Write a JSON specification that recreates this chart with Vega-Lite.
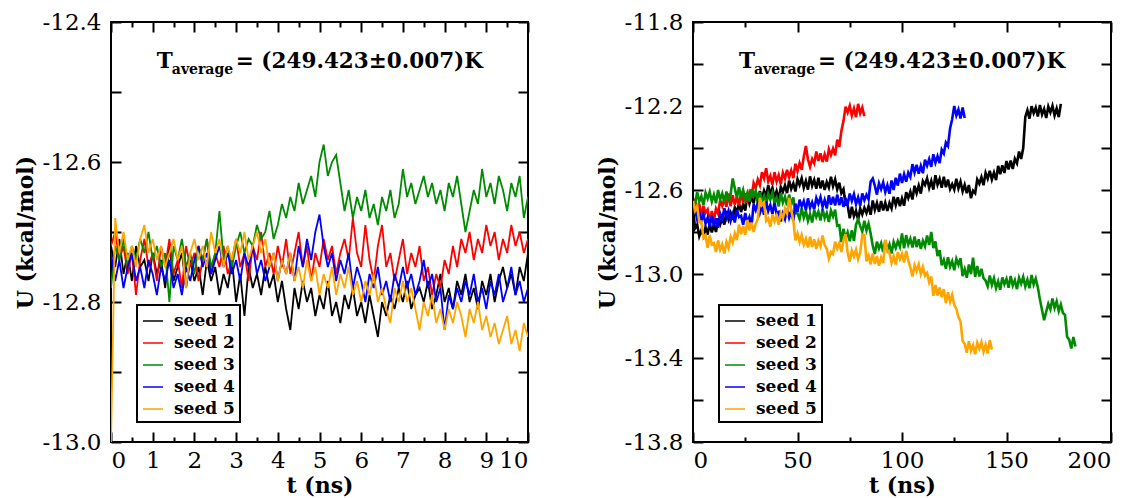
{
"$schema": "https://vega.github.io/schema/vega-lite/v6.json",
"padding": {"left": 13, "top": 10, "right": 0, "bottom": 0},
"spacing": 165,
"bounds": "flush",
"datasets": {
"left": [
{"t":0,"s1":-12.72,"s2":-12.72,"s3":-12.78,"s4":-12.73,"s5":-13.0},
{"t":0.1,"s1":-12.75,"s2":-12.70,"s3":-12.72,"s4":-12.77,"s5":-12.68},
{"t":0.2,"s1":-12.71,"s2":-12.74,"s3":-12.74,"s4":-12.74,"s5":-12.73},
{"t":0.3,"s1":-12.76,"s2":-12.72,"s3":-12.71,"s4":-12.78,"s5":-12.70},
{"t":0.4,"s1":-12.73,"s2":-12.76,"s3":-12.75,"s4":-12.75,"s5":-12.74},
{"t":0.5,"s1":-12.77,"s2":-12.73,"s3":-12.72,"s4":-12.73,"s5":-12.72},
{"t":0.6,"s1":-12.72,"s2":-12.79,"s3":-12.74,"s4":-12.77,"s5":-12.75},
{"t":0.7,"s1":-12.75,"s2":-12.74,"s3":-12.71,"s4":-12.75,"s5":-12.71},
{"t":0.8,"s1":-12.74,"s2":-12.71,"s3":-12.73,"s4":-12.78,"s5":-12.69},
{"t":0.9,"s1":-12.77,"s2":-12.75,"s3":-12.70,"s4":-12.74,"s5":-12.73},
{"t":1.0,"s1":-12.73,"s2":-12.73,"s3":-12.74,"s4":-12.76,"s5":-12.71},
{"t":1.1,"s1":-12.76,"s2":-12.77,"s3":-12.72,"s4":-12.79,"s5":-12.74},
{"t":1.2,"s1":-12.74,"s2":-12.72,"s3":-12.75,"s4":-12.75,"s5":-12.72},
{"t":1.3,"s1":-12.78,"s2":-12.75,"s3":-12.73,"s4":-12.77,"s5":-12.75},
{"t":1.4,"s1":-12.72,"s2":-12.71,"s3":-12.80,"s4":-12.74,"s5":-12.73},
{"t":1.5,"s1":-12.77,"s2":-12.76,"s3":-12.72,"s4":-12.78,"s5":-12.71},
{"t":1.6,"s1":-12.75,"s2":-12.74,"s3":-12.74,"s4":-12.76,"s5":-12.74},
{"t":1.7,"s1":-12.73,"s2":-12.78,"s3":-12.71,"s4":-12.79,"s5":-12.72},
{"t":1.8,"s1":-12.78,"s2":-12.72,"s3":-12.75,"s4":-12.75,"s5":-12.78},
{"t":1.9,"s1":-12.74,"s2":-12.75,"s3":-12.73,"s4":-12.77,"s5":-12.73},
{"t":2.0,"s1":-12.77,"s2":-12.73,"s3":-12.76,"s4":-12.74,"s5":-12.71},
{"t":2.1,"s1":-12.75,"s2":-12.77,"s3":-12.72,"s4":-12.72,"s5":-12.74},
{"t":2.2,"s1":-12.79,"s2":-12.74,"s3":-12.74,"s4":-12.75,"s5":-12.72},
{"t":2.3,"s1":-12.74,"s2":-12.71,"s3":-12.71,"s4":-12.73,"s5":-12.75},
{"t":2.4,"s1":-12.77,"s2":-12.76,"s3":-12.75,"s4":-12.76,"s5":-12.70},
{"t":2.5,"s1":-12.75,"s2":-12.73,"s3":-12.73,"s4":-12.74,"s5":-12.73},
{"t":2.6,"s1":-12.79,"s2":-12.75,"s3":-12.67,"s4":-12.72,"s5":-12.71},
{"t":2.7,"s1":-12.76,"s2":-12.72,"s3":-12.74,"s4":-12.75,"s5":-12.75},
{"t":2.8,"s1":-12.78,"s2":-12.76,"s3":-12.72,"s4":-12.73,"s5":-12.72},
{"t":2.9,"s1":-12.74,"s2":-12.74,"s3":-12.75,"s4":-12.76,"s5":-12.74},
{"t":3.0,"s1":-12.80,"s2":-12.71,"s3":-12.72,"s4":-12.74,"s5":-12.71},
{"t":3.1,"s1":-12.76,"s2":-12.75,"s3":-12.70,"s4":-12.77,"s5":-12.73},
{"t":3.2,"s1":-12.82,"s2":-12.73,"s3":-12.73,"s4":-12.73,"s5":-12.70},
{"t":3.3,"s1":-12.75,"s2":-12.77,"s3":-12.71,"s4":-12.75,"s5":-12.74},
{"t":3.4,"s1":-12.78,"s2":-12.72,"s3":-12.72,"s4":-12.72,"s5":-12.72},
{"t":3.5,"s1":-12.76,"s2":-12.74,"s3":-12.69,"s4":-12.76,"s5":-12.70},
{"t":3.6,"s1":-12.79,"s2":-12.70,"s3":-12.71,"s4":-12.74,"s5":-12.73},
{"t":3.7,"s1":-12.75,"s2":-12.75,"s3":-12.70,"s4":-12.77,"s5":-12.71},
{"t":3.8,"s1":-12.78,"s2":-12.73,"s3":-12.67,"s4":-12.75,"s5":-12.75},
{"t":3.9,"s1":-12.76,"s2":-12.76,"s3":-12.71,"s4":-12.73,"s5":-12.73},
{"t":4.0,"s1":-12.80,"s2":-12.72,"s3":-12.69,"s4":-12.77,"s5":-12.77},
{"t":4.1,"s1":-12.77,"s2":-12.75,"s3":-12.66,"s4":-12.74,"s5":-12.74},
{"t":4.2,"s1":-12.81,"s2":-12.71,"s3":-12.68,"s4":-12.76,"s5":-12.76},
{"t":4.3,"s1":-12.84,"s2":-12.76,"s3":-12.65,"s4":-12.73,"s5":-12.73},
{"t":4.4,"s1":-12.78,"s2":-12.73,"s3":-12.67,"s4":-12.77,"s5":-12.77},
{"t":4.5,"s1":-12.81,"s2":-12.70,"s3":-12.63,"s4":-12.72,"s5":-12.75},
{"t":4.6,"s1":-12.77,"s2":-12.75,"s3":-12.66,"s4":-12.75,"s5":-12.78},
{"t":4.7,"s1":-12.80,"s2":-12.72,"s3":-12.64,"s4":-12.71,"s5":-12.74},
{"t":4.8,"s1":-12.78,"s2":-12.77,"s3":-12.62,"s4":-12.74,"s5":-12.77},
{"t":4.9,"s1":-12.82,"s2":-12.73,"s3":-12.65,"s4":-12.70,"s5":-12.75},
{"t":5.0,"s1":-12.79,"s2":-12.75,"s3":-12.60,"s4":-12.675,"s5":-12.79},
{"t":5.1,"s1":-12.81,"s2":-12.71,"s3":-12.575,"s4":-12.72,"s5":-12.76},
{"t":5.2,"s1":-12.77,"s2":-12.74,"s3":-12.62,"s4":-12.75,"s5":-12.78},
{"t":5.3,"s1":-12.82,"s2":-12.72,"s3":-12.60,"s4":-12.73,"s5":-12.75},
{"t":5.4,"s1":-12.80,"s2":-12.76,"s3":-12.59,"s4":-12.77,"s5":-12.79},
{"t":5.5,"s1":-12.83,"s2":-12.73,"s3":-12.63,"s4":-12.74,"s5":-12.76},
{"t":5.6,"s1":-12.79,"s2":-12.71,"s3":-12.67,"s4":-12.76,"s5":-12.78},
{"t":5.7,"s1":-12.81,"s2":-12.74,"s3":-12.64,"s4":-12.73,"s5":-12.75},
{"t":5.8,"s1":-12.78,"s2":-12.68,"s3":-12.68,"s4":-12.78,"s5":-12.79},
{"t":5.9,"s1":-12.82,"s2":-12.73,"s3":-12.65,"s4":-12.75,"s5":-12.77},
{"t":6.0,"s1":-12.80,"s2":-12.75,"s3":-12.67,"s4":-12.77,"s5":-12.80},
{"t":6.1,"s1":-12.83,"s2":-12.69,"s3":-12.64,"s4":-12.80,"s5":-12.77},
{"t":6.2,"s1":-12.79,"s2":-12.74,"s3":-12.68,"s4":-12.76,"s5":-12.79},
{"t":6.3,"s1":-12.82,"s2":-12.77,"s3":-12.66,"s4":-12.78,"s5":-12.76},
{"t":6.4,"s1":-12.85,"s2":-12.72,"s3":-12.69,"s4":-12.75,"s5":-12.80},
{"t":6.5,"s1":-12.80,"s2":-12.69,"s3":-12.65,"s4":-12.79,"s5":-12.78},
{"t":6.6,"s1":-12.82,"s2":-12.75,"s3":-12.67,"s4":-12.77,"s5":-12.81},
{"t":6.7,"s1":-12.79,"s2":-12.73,"s3":-12.64,"s4":-12.80,"s5":-12.83},
{"t":6.8,"s1":-12.81,"s2":-12.77,"s3":-12.68,"s4":-12.76,"s5":-12.78},
{"t":6.9,"s1":-12.78,"s2":-12.74,"s3":-12.66,"s4":-12.78,"s5":-12.80},
{"t":7.0,"s1":-12.80,"s2":-12.71,"s3":-12.61,"s4":-12.75,"s5":-12.77},
{"t":7.1,"s1":-12.77,"s2":-12.76,"s3":-12.65,"s4":-12.78,"s5":-12.80},
{"t":7.2,"s1":-12.81,"s2":-12.73,"s3":-12.63,"s4":-12.76,"s5":-12.78},
{"t":7.3,"s1":-12.79,"s2":-12.75,"s3":-12.66,"s4":-12.79,"s5":-12.81},
{"t":7.4,"s1":-12.78,"s2":-12.72,"s3":-12.64,"s4":-12.77,"s5":-12.84},
{"t":7.5,"s1":-12.80,"s2":-12.77,"s3":-12.62,"s4":-12.74,"s5":-12.80},
{"t":7.6,"s1":-12.77,"s2":-12.75,"s3":-12.65,"s4":-12.78,"s5":-12.82},
{"t":7.7,"s1":-12.81,"s2":-12.79,"s3":-12.63,"s4":-12.76,"s5":-12.79},
{"t":7.8,"s1":-12.79,"s2":-12.76,"s3":-12.66,"s4":-12.80,"s5":-12.83},
{"t":7.9,"s1":-12.76,"s2":-12.78,"s3":-12.64,"s4":-12.78,"s5":-12.81},
{"t":8.0,"s1":-12.80,"s2":-12.74,"s3":-12.67,"s4":-12.84,"s5":-12.84},
{"t":8.1,"s1":-12.78,"s2":-12.76,"s3":-12.63,"s4":-12.79,"s5":-12.81},
{"t":8.2,"s1":-12.81,"s2":-12.72,"s3":-12.65,"s4":-12.81,"s5":-12.83},
{"t":8.3,"s1":-12.77,"s2":-12.75,"s3":-12.62,"s4":-12.78,"s5":-12.80},
{"t":8.4,"s1":-12.79,"s2":-12.71,"s3":-12.66,"s4":-12.80,"s5":-12.82},
{"t":8.5,"s1":-12.76,"s2":-12.73,"s3":-12.70,"s4":-12.77,"s5":-12.85},
{"t":8.6,"s1":-12.80,"s2":-12.70,"s3":-12.67,"s4":-12.79,"s5":-12.81},
{"t":8.7,"s1":-12.78,"s2":-12.74,"s3":-12.64,"s4":-12.76,"s5":-12.83},
{"t":8.8,"s1":-12.81,"s2":-12.71,"s3":-12.66,"s4":-12.80,"s5":-12.80},
{"t":8.9,"s1":-12.77,"s2":-12.73,"s3":-12.61,"s4":-12.78,"s5":-12.84},
{"t":9.0,"s1":-12.79,"s2":-12.69,"s3":-12.65,"s4":-12.81,"s5":-12.82},
{"t":9.1,"s1":-12.76,"s2":-12.72,"s3":-12.63,"s4":-12.77,"s5":-12.85},
{"t":9.2,"s1":-12.80,"s2":-12.70,"s3":-12.66,"s4":-12.79,"s5":-12.83},
{"t":9.3,"s1":-12.77,"s2":-12.74,"s3":-12.62,"s4":-12.76,"s5":-12.86},
{"t":9.4,"s1":-12.75,"s2":-12.71,"s3":-12.64,"s4":-12.80,"s5":-12.84},
{"t":9.5,"s1":-12.78,"s2":-12.73,"s3":-12.67,"s4":-12.78,"s5":-12.82},
{"t":9.6,"s1":-12.76,"s2":-12.69,"s3":-12.63,"s4":-12.75,"s5":-12.86},
{"t":9.7,"s1":-12.79,"s2":-12.72,"s3":-12.65,"s4":-12.79,"s5":-12.84},
{"t":9.8,"s1":-12.75,"s2":-12.70,"s3":-12.62,"s4":-12.77,"s5":-12.87},
{"t":9.9,"s1":-12.77,"s2":-12.73,"s3":-12.68,"s4":-12.80,"s5":-12.83},
{"t":10.0,"s1":-12.73,"s2":-12.71,"s3":-12.65,"s4":-12.78,"s5":-12.85}
],
"right": [
{"t":0,"s1":-12.692,"s2":-12.672,"s3":-12.653,"s4":-12.706,"s5":-12.652},
{"t":1,"s1":-12.782,"s2":-12.65,"s3":-12.665,"s4":-12.694,"s5":-12.698},
{"t":2,"s1":-12.765,"s2":-12.697,"s3":-12.61,"s4":-12.74,"s5":-12.677},
{"t":3,"s1":-12.82,"s2":-12.665,"s3":-12.655,"s4":-12.707,"s5":-12.752},
{"t":4,"s1":-12.792,"s2":-12.725,"s3":-12.629,"s4":-12.748,"s5":-12.75},
{"t":5,"s1":-12.818,"s2":-12.676,"s3":-12.672,"s4":-12.715,"s5":-12.827},
{"t":6,"s1":-12.777,"s2":-12.709,"s3":-12.613,"s4":-12.76,"s5":-12.815},
{"t":7,"s1":-12.812,"s2":-12.693,"s3":-12.641,"s4":-12.732,"s5":-12.875},
{"t":8,"s1":-12.76,"s2":-12.755,"s3":-12.609,"s4":-12.774,"s5":-12.816},
{"t":9,"s1":-12.802,"s2":-12.70,"s3":-12.655,"s4":-12.722,"s5":-12.859},
{"t":10,"s1":-12.765,"s2":-12.745,"s3":-12.622,"s4":-12.772,"s5":-12.853},
{"t":11,"s1":-12.80,"s2":-12.689,"s3":-12.663,"s4":-12.735,"s5":-12.895},
{"t":12,"s1":-12.736,"s2":-12.712,"s3":-12.60,"s4":-12.78,"s5":-12.84},
{"t":13,"s1":-12.764,"s2":-12.648,"s3":-12.645,"s4":-12.712,"s5":-12.885},
{"t":14,"s1":-12.733,"s2":-12.676,"s3":-12.617,"s4":-12.738,"s5":-12.859},
{"t":15,"s1":-12.765,"s2":-12.644,"s3":-12.659,"s4":-12.687,"s5":-12.902},
{"t":16,"s1":-12.70,"s2":-12.68,"s3":-12.607,"s4":-12.732,"s5":-12.848},
{"t":17,"s1":-12.74,"s2":-12.617,"s3":-12.657,"s4":-12.70,"s5":-12.876},
{"t":18,"s1":-12.709,"s2":-12.678,"s3":-12.62,"s4":-12.747,"s5":-12.824},
{"t":19,"s1":-12.742,"s2":-12.625,"s3":-12.545,"s4":-12.715,"s5":-12.85},
{"t":20,"s1":-12.683,"s2":-12.67,"s3":-12.592,"s4":-12.755,"s5":-12.807},
{"t":21,"s1":-12.706,"s2":-12.632,"s3":-12.638,"s4":-12.696,"s5":-12.838},
{"t":22,"s1":-12.664,"s2":-12.674,"s3":-12.587,"s4":-12.729,"s5":-12.765},
{"t":23,"s1":-12.705,"s2":-12.612,"s3":-12.632,"s4":-12.723,"s5":-12.81},
{"t":24,"s1":-12.667,"s2":-12.662,"s3":-12.60,"s4":-12.765,"s5":-12.772},
{"t":25,"s1":-12.698,"s2":-12.615,"s3":-12.647,"s4":-12.71,"s5":-12.814},
{"t":26,"s1":-12.625,"s2":-12.66,"s3":-12.615,"s4":-12.755,"s5":-12.742},
{"t":27,"s1":-12.665,"s2":-12.612,"s3":-12.655,"s4":-12.729,"s5":-12.792},
{"t":28,"s1":-12.632,"s2":-12.638,"s3":-12.596,"s4":-12.772,"s5":-12.755},
{"t":29,"s1":-12.664,"s2":-12.567,"s3":-12.629,"s4":-12.668,"s5":-12.80},
{"t":30,"s1":-12.607,"s2":-12.592,"s3":-12.603,"s4":-12.696,"s5":-12.762},
{"t":31,"s1":-12.652,"s2":-12.55,"s3":-12.665,"s4":-12.664,"s5":-12.738},
{"t":32,"s1":-12.605,"s2":-12.577,"s3":-12.61,"s4":-12.71,"s5":-12.637},
{"t":33,"s1":-12.64,"s2":-12.515,"s3":-12.655,"s4":-12.677,"s5":-12.672},
{"t":34,"s1":-12.602,"s2":-12.545,"s3":-12.629,"s4":-12.718,"s5":-12.66},
{"t":35,"s1":-12.628,"s2":-12.496,"s3":-12.672,"s4":-12.655,"s5":-12.747},
{"t":36,"s1":-12.577,"s2":-12.559,"s3":-12.618,"s4":-12.70,"s5":-12.735},
{"t":37,"s1":-12.622,"s2":-12.533,"s3":-12.646,"s4":-12.672,"s5":-12.775},
{"t":38,"s1":-12.59,"s2":-12.575,"s3":-12.614,"s4":-12.714,"s5":-12.716},
{"t":39,"s1":-12.637,"s2":-12.515,"s3":-12.66,"s4":-12.662,"s5":-12.749},
{"t":40,"s1":-12.605,"s2":-12.56,"s3":-12.637,"s4":-12.712,"s5":-12.723},
{"t":41,"s1":-12.645,"s2":-12.529,"s3":-12.678,"s4":-12.705,"s5":-12.765},
{"t":42,"s1":-12.586,"s2":-12.572,"s3":-12.615,"s4":-12.75,"s5":-12.71},
{"t":43,"s1":-12.609,"s2":-12.518,"s3":-12.66,"s4":-12.712,"s5":-12.735},
{"t":44,"s1":-12.578,"s2":-12.546,"s3":-12.632,"s4":-12.738,"s5":-12.689},
{"t":45,"s1":-12.615,"s2":-12.504,"s3":-12.674,"s4":-12.687,"s5":-12.712},
{"t":46,"s1":-12.555,"s2":-12.54,"s3":-12.622,"s4":-12.732,"s5":-12.638},
{"t":47,"s1":-12.595,"s2":-12.507,"s3":-12.672,"s4":-12.70,"s5":-12.696},
{"t":48,"s1":-12.569,"s2":-12.543,"s3":-12.635,"s4":-12.747,"s5":-12.744},
{"t":49,"s1":-12.607,"s2":-12.475,"s3":-12.71,"s4":-12.665,"s5":-12.84},
{"t":50,"s1":-12.548,"s2":-12.51,"s3":-12.712,"s4":-12.705,"s5":-12.807},
{"t":51,"s1":-12.576,"s2":-12.472,"s3":-12.738,"s4":-12.646,"s5":-12.848},
{"t":52,"s1":-12.544,"s2":-12.504,"s3":-12.687,"s4":-12.679,"s5":-12.815},
{"t":53,"s1":-12.59,"s2":-12.442,"s3":-12.732,"s4":-12.653,"s5":-12.86},
{"t":54,"s1":-12.557,"s2":-12.39,"s3":-12.70,"s4":-12.695,"s5":-12.832},
{"t":55,"s1":-12.598,"s2":-12.455,"s3":-12.747,"s4":-12.64,"s5":-12.874},
{"t":56,"s1":-12.535,"s2":-12.49,"s3":-12.715,"s4":-12.685,"s5":-12.822},
{"t":57,"s1":-12.58,"s2":-12.452,"s3":-12.755,"s4":-12.659,"s5":-12.872},
{"t":58,"s1":-12.552,"s2":-12.473,"s3":-12.696,"s4":-12.692,"s5":-12.835},
{"t":59,"s1":-12.594,"s2":-12.417,"s3":-12.729,"s4":-12.638,"s5":-12.88},
{"t":60,"s1":-12.542,"s2":-12.462,"s3":-12.703,"s4":-12.666,"s5":-12.842},
{"t":61,"s1":-12.592,"s2":-12.425,"s3":-12.745,"s4":-12.634,"s5":-12.868},
{"t":62,"s1":-12.555,"s2":-12.467,"s3":-12.69,"s4":-12.68,"s5":-12.817},
{"t":63,"s1":-12.60,"s2":-12.43,"s3":-12.735,"s4":-12.647,"s5":-12.862},
{"t":64,"s1":-12.562,"s2":-12.465,"s3":-12.709,"s4":-12.688,"s5":-12.88},
{"t":65,"s1":-12.588,"s2":-12.406,"s3":-12.752,"s4":-12.625,"s5":-12.927},
{"t":66,"s1":-12.537,"s2":-12.434,"s3":-12.698,"s4":-12.67,"s5":-12.895},
{"t":67,"s1":-12.582,"s2":-12.403,"s3":-12.726,"s4":-12.632,"s5":-12.905},
{"t":68,"s1":-12.55,"s2":-12.435,"s3":-12.694,"s4":-12.674,"s5":-12.846},
{"t":69,"s1":-12.597,"s2":-12.36,"s3":-12.77,"s4":-12.622,"s5":-12.879},
{"t":70,"s1":-12.565,"s2":-12.395,"s3":-12.767,"s4":-12.672,"s5":-12.853},
{"t":71,"s1":-12.615,"s2":-12.319,"s3":-12.848,"s4":-12.635,"s5":-12.895},
{"t":72,"s1":-12.596,"s2":-12.272,"s3":-12.785,"s4":-12.68,"s5":-12.84},
{"t":73,"s1":-12.669,"s2":-12.203,"s3":-12.83,"s4":-12.642,"s5":-12.81},
{"t":74,"s1":-12.673,"s2":-12.231,"s3":-12.802,"s4":-12.668,"s5":-12.899},
{"t":75,"s1":-12.735,"s2":-12.199,"s3":-12.844,"s4":-12.617,"s5":-12.942},
{"t":76,"s1":-12.68,"s2":-12.245,"s3":-12.792,"s4":-12.652,"s5":-12.888},
{"t":77,"s1":-12.725,"s2":-12.212,"s3":-12.842,"s4":-12.62,"s5":-12.916},
{"t":78,"s1":-12.699,"s2":-12.253,"s3":-12.765,"s4":-12.667,"s5":-12.884},
{"t":79,"s1":-12.742,"s2":-12.19,"s3":-12.74,"s4":-12.635,"s5":-12.93},
{"t":80,"s1":-12.688,"s2":-12.235,"s3":-12.772,"s4":-12.675,"s5":-12.897},
{"t":81,"s1":-12.716,"s2":-12.207,"s3":-12.798,"s4":-12.616,"s5":-12.815},
{"t":82,"s1":-12.684,"s2":-12.249,"s3":-12.747,"s4":-12.649,"s5":-12.815},
{"t":83,"s1":-12.71,"s3":-12.792,"s4":-12.623,"s5":-12.94},
{"t":84,"s1":-12.677,"s3":-12.76,"s4":-12.645,"s5":-12.912},
{"t":85,"s1":-12.718,"s3":-12.807,"s4":-12.56,"s5":-12.954},
{"t":86,"s1":-12.65,"s3":-12.865,"s4":-12.545,"s5":-12.902},
{"t":87,"s1":-12.695,"s3":-12.905,"s4":-12.579,"s5":-12.952},
{"t":88,"s1":-12.662,"s3":-12.846,"s4":-12.622,"s5":-12.915},
{"t":89,"s1":-12.704,"s3":-12.879,"s4":-12.568,"s5":-12.96},
{"t":90,"s1":-12.652,"s3":-12.853,"s4":-12.596,"s5":-12.922},
{"t":91,"s1":-12.697,"s3":-12.895,"s4":-12.564,"s5":-12.948},
{"t":92,"s1":-12.66,"s3":-12.84,"s4":-12.61,"s5":-12.837},
{"t":93,"s1":-12.70,"s3":-12.885,"s4":-12.577,"s5":-12.892},
{"t":94,"s1":-12.662,"s3":-12.859,"s4":-12.618,"s5":-12.90},
{"t":95,"s1":-12.688,"s3":-12.902,"s4":-12.555,"s5":-12.947},
{"t":96,"s1":-12.632,"s3":-12.848,"s4":-12.60,"s5":-12.915},
{"t":97,"s1":-12.672,"s3":-12.876,"s4":-12.542,"s5":-12.955},
{"t":98,"s1":-12.635,"s3":-12.844,"s4":-12.579,"s5":-12.896},
{"t":99,"s1":-12.677,"s3":-12.87,"s4":-12.522,"s5":-12.929},
{"t":100,"s1":-12.64,"s3":-12.807,"s4":-12.567,"s5":-12.903},
{"t":101,"s1":-12.675,"s3":-12.878,"s4":-12.525,"s5":-12.945},
{"t":102,"s1":-12.611,"s3":-12.815,"s4":-12.56,"s5":-12.89},
{"t":103,"s1":-12.639,"s3":-12.86,"s4":-12.517,"s5":-12.935},
{"t":104,"s1":-12.608,"s3":-12.832,"s4":-12.538,"s5":-12.969},
{"t":105,"s1":-12.645,"s3":-12.874,"s4":-12.477,"s5":-13.012},
{"t":106,"s1":-12.58,"s3":-12.822,"s4":-12.517,"s5":-12.958},
{"t":107,"s1":-12.615,"s3":-12.872,"s4":-12.48,"s5":-12.986},
{"t":108,"s1":-12.579,"s3":-12.835,"s4":-12.522,"s5":-12.954},
{"t":109,"s1":-12.617,"s3":-12.88,"s4":-12.485,"s5":-13.00},
{"t":110,"s1":-12.558,"s3":-12.842,"s4":-12.52,"s5":-12.967},
{"t":111,"s1":-12.576,"s3":-12.868,"s4":-12.456,"s5":-13.008},
{"t":112,"s1":-12.544,"s3":-12.817,"s4":-12.484,"s5":-12.995},
{"t":113,"s1":-12.59,"s3":-12.862,"s4":-12.453,"s5":-13.04},
{"t":114,"s1":-12.557,"s3":-12.80,"s4":-12.49,"s5":-13.012},
{"t":115,"s1":-12.598,"s3":-12.877,"s4":-12.43,"s5":-13.104},
{"t":116,"s1":-12.53,"s3":-12.845,"s4":-12.47,"s5":-13.052},
{"t":117,"s1":-12.575,"s3":-12.915,"s4":-12.439,"s5":-13.102},
{"t":118,"s1":-12.547,"s3":-12.886,"s4":-12.472,"s5":-13.065},
{"t":119,"s1":-12.589,"s3":-12.959,"s4":-12.408,"s5":-13.11},
{"t":120,"s1":-12.537,"s3":-12.933,"s4":-12.426,"s5":-13.072},
{"t":121,"s1":-12.587,"s3":-12.975,"s4":-12.374,"s5":-13.138},
{"t":122,"s1":-12.55,"s3":-12.92,"s4":-12.39,"s5":-13.087},
{"t":123,"s1":-12.595,"s3":-12.965,"s4":-12.307,"s5":-13.132},
{"t":124,"s1":-12.572,"s3":-12.939,"s4":-12.263,"s5":-13.10},
{"t":125,"s1":-12.598,"s3":-12.982,"s4":-12.20,"s5":-13.147},
{"t":126,"s1":-12.547,"s3":-12.928,"s4":-12.245,"s5":-13.165},
{"t":127,"s1":-12.592,"s3":-12.956,"s4":-12.217,"s5":-13.205},
{"t":128,"s1":-12.56,"s3":-12.924,"s4":-12.259,"s5":-13.226},
{"t":129,"s1":-12.607,"s3":-13.01,"s4":-12.207,"s5":-13.319},
{"t":130,"s1":-12.575,"s3":-12.977,"s4":-12.257,"s5":-13.333},
{"t":131,"s1":-12.615,"s3":-13.018,"s5":-13.375},
{"t":132,"s1":-12.576,"s3":-12.955,"s5":-13.32},
{"t":133,"s1":-12.639,"s3":-13.00,"s5":-13.365},
{"t":134,"s1":-12.603,"s3":-12.922,"s5":-13.339},
{"t":135,"s1":-12.615,"s3":-13.014,"s5":-13.382},
{"t":136,"s1":-12.55,"s3":-12.962,"s5":-13.328},
{"t":137,"s1":-12.57,"s3":-13.012,"s5":-13.356},
{"t":138,"s1":-12.539,"s3":-12.975,"s5":-13.324},
{"t":139,"s1":-12.577,"s3":-13.02,"s5":-13.37},
{"t":140,"s1":-12.518,"s3":-13.032,"s5":-13.337},
{"t":141,"s1":-12.546,"s3":-13.058,"s5":-13.378},
{"t":142,"s1":-12.509,"s3":-13.007,"s5":-13.315},
{"t":143,"s1":-12.55,"s3":-13.052,"s5":-13.36},
{"t":144,"s1":-12.517,"s3":-13.02},
{"t":145,"s1":-12.553,"s3":-13.067},
{"t":146,"s1":-12.485,"s3":-13.035},
{"t":147,"s1":-12.525,"s3":-13.075},
{"t":148,"s1":-12.482,"s3":-13.016},
{"t":149,"s1":-12.519,"s3":-13.049},
{"t":150,"s1":-12.462,"s3":-13.023},
{"t":151,"s1":-12.502,"s3":-13.065},
{"t":152,"s1":-12.46,"s3":-13.01},
{"t":153,"s1":-12.50,"s3":-13.055},
{"t":154,"s1":-12.452,"s3":-13.029},
{"t":155,"s1":-12.473,"s3":-13.072},
{"t":156,"s1":-12.417,"s3":-13.018},
{"t":157,"s1":-12.452,"s3":-13.046},
{"t":158,"s1":-12.40,"s3":-13.014},
{"t":159,"s1":-12.252,"s3":-13.06},
{"t":160,"s1":-12.22,"s3":-13.027},
{"t":161,"s1":-12.26,"s3":-13.068},
{"t":162,"s1":-12.201,"s3":-13.005},
{"t":163,"s1":-12.234,"s3":-13.05},
{"t":164,"s1":-12.208,"s3":-13.022},
{"t":165,"s1":-12.25,"s3":-13.064},
{"t":166,"s1":-12.195,"s3":-13.122},
{"t":167,"s1":-12.24,"s3":-13.172},
{"t":168,"s1":-12.214,"s3":-13.22},
{"t":169,"s1":-12.257,"s3":-13.18},
{"t":170,"s1":-12.203,"s3":-13.142},
{"t":171,"s1":-12.231,"s3":-13.168},
{"t":172,"s1":-12.199,"s3":-13.117},
{"t":173,"s1":-12.245,"s3":-13.162},
{"t":174,"s1":-12.212,"s3":-13.13},
{"t":175,"s1":-12.253,"s3":-13.177},
{"t":176,"s1":-12.19,"s3":-13.145},
{"t":177,"s3":-13.185},
{"t":178,"s3":-13.196},
{"t":179,"s3":-13.299},
{"t":180,"s3":-13.313},
{"t":181,"s3":-13.355},
{"t":182,"s3":-13.30},
{"t":183,"s3":-13.345}
]
},
"hconcat": [
{
"width": 417, "height": 420,
"layer": [
{
"data": {"name": "left"},
"transform": [{"fold": ["s1","s2","s3","s4","s5"], "as": ["seed","U"]}, {"filter": "isValid(datum.U)"}],
"mark": {"type": "line", "strokeWidth": 1.8, "clip": true},
"encoding": {
"x": {"field": "t", "type": "quantitative", "scale": {"domain": [0,10], "nice": false, "zero": false},
 "axis": {"orient": "bottom", "values": [0,1,2,3,4,5,6,7,8,9,10], "format": "d", "tickSize": -10, "labelPadding": 17, "title": "t (ns)", "titlePadding": 3}},
"y": {"field": "U", "type": "quantitative", "scale": {"domain": [-13,-12.4], "nice": false, "zero": false},
 "axis": {"orient": "left", "values": [-13,-12.9,-12.8,-12.7,-12.6,-12.5,-12.4], "labelExpr": "abs(round(datum.value*10)) % 2 == 0 ? replace(format(datum.value, '.1f'), '\u2212', '-') : ''", "tickSize": -10, "labelPadding": 20, "title": "U (kcal/mol)", "titlePadding": 5}},
"color": {"field": "seed", "type": "nominal", "scale": {"domain": ["s1","s2","s3","s4","s5"], "range": ["#000000","#ff0000","#008b00","#0000ff","#ffa500"]},
 "legend": {"orient": "none", "legendX": 26, "legendY": 283, "title": null, "labelExpr": "'seed ' + slice(datum.label, 1)"}}
}
},
{
"data": {"values": [{}]},
"mark": {"type": "text", "text": "T", "fontSize": 21.5, "fontWeight": "bold", "align": "left", "baseline": "alphabetic", "color": "black"},
"encoding": {
"x": {"datum": 1.1, "type": "quantitative", "axis": {"orient": "bottom", "values": [0.5,1.5,2.5,3.5,4.5,5.5,6.5,7.5,8.5,9.5], "tickSize": -5, "labels": false, "title": null}},
"y": {"datum": -12.466, "type": "quantitative", "axis": {"orient": "right", "values": [-13,-12.9,-12.8,-12.7,-12.6,-12.5,-12.4], "tickSize": -10, "labels": false, "title": null}}
}
},
{
"data": {"values": [{}]},
"mark": {"type": "text", "text": "average", "fontSize": 14, "fontWeight": "bold", "align": "left", "baseline": "alphabetic", "dx": 15, "dy": 6, "color": "black"},
"encoding": {
"x": {"datum": 1.1, "type": "quantitative", "axis": {"orient": "top", "values": [0,1,2,3,4,5,6,7,8,9,10], "tickSize": -10, "labels": false, "title": null}},
"y": {"datum": -12.466, "type": "quantitative", "axis": null}
}
},
{
"data": {"values": [{}]},
"mark": {"type": "text", "text": "= (249.423±0.007)K", "fontSize": 21.5, "fontWeight": "bold", "align": "left", "baseline": "alphabetic", "dx": 79, "color": "black"},
"encoding": {
"x": {"datum": 1.1, "type": "quantitative", "axis": {"orient": "top", "values": [0.5,1.5,2.5,3.5,4.5,5.5,6.5,7.5,8.5,9.5], "tickSize": -5, "labels": false, "title": null}},
"y": {"datum": -12.466, "type": "quantitative", "axis": null}
}
}
],
"resolve": {"axis": {"x": "independent", "y": "independent"}}
},
{
"width": 418, "height": 420,
"layer": [
{
"data": {"name": "right"},
"transform": [{"fold": ["s1","s2","s3","s4","s5"], "as": ["seed","U"]}, {"filter": "isValid(datum.U)"}],
"mark": {"type": "line", "strokeWidth": 2.6, "clip": true},
"encoding": {
"x": {"field": "t", "type": "quantitative", "scale": {"domain": [0,200], "nice": false, "zero": false},
 "axis": {"orient": "bottom", "values": [0,50,100,150,200], "format": "d", "tickSize": -10, "labelPadding": 17, "title": "t (ns)", "titlePadding": 3}},
"y": {"field": "U", "type": "quantitative", "scale": {"domain": [-13.8,-11.8], "nice": false, "zero": false},
 "axis": {"orient": "left", "values": [-13.8,-13.6,-13.4,-13.2,-13.0,-12.8,-12.6,-12.4,-12.2,-12.0,-11.8], "labelExpr": "abs(round(datum.value*10)) % 4 == 2 ? replace(format(datum.value, '.1f'), '\u2212', '-') : ''", "tickSize": -10, "labelPadding": 20, "title": "U (kcal/mol)", "titlePadding": 5}},
"color": {"field": "seed", "type": "nominal", "scale": {"domain": ["s1","s2","s3","s4","s5"], "range": ["#000000","#ff0000","#008b00","#0000ff","#ffa500"]},
 "legend": {"orient": "none", "legendX": 26, "legendY": 283, "title": null, "labelExpr": "'seed ' + slice(datum.label, 1)"}}
}
},
{
"data": {"values": [{}]},
"mark": {"type": "text", "text": "T", "fontSize": 21.5, "fontWeight": "bold", "align": "left", "baseline": "alphabetic", "color": "black"},
"encoding": {
"x": {"datum": 22, "type": "quantitative", "axis": {"orient": "bottom", "values": [25,75,125,175], "tickSize": -5, "labels": false, "title": null}},
"y": {"datum": -12.02, "type": "quantitative", "axis": {"orient": "right", "values": [-13.8,-13.6,-13.4,-13.2,-13.0,-12.8,-12.6,-12.4,-12.2,-12.0,-11.8], "tickSize": -10, "labels": false, "title": null}}
}
},
{
"data": {"values": [{}]},
"mark": {"type": "text", "text": "average", "fontSize": 14, "fontWeight": "bold", "align": "left", "baseline": "alphabetic", "dx": 15, "dy": 6, "color": "black"},
"encoding": {
"x": {"datum": 22, "type": "quantitative", "axis": {"orient": "top", "values": [0,50,100,150,200], "tickSize": -10, "labels": false, "title": null}},
"y": {"datum": -12.02, "type": "quantitative", "axis": null}
}
},
{
"data": {"values": [{}]},
"mark": {"type": "text", "text": "= (249.423±0.007)K", "fontSize": 21.5, "fontWeight": "bold", "align": "left", "baseline": "alphabetic", "dx": 79, "color": "black"},
"encoding": {
"x": {"datum": 22, "type": "quantitative", "axis": {"orient": "top", "values": [25,75,125,175], "tickSize": -5, "labels": false, "title": null}},
"y": {"datum": -12.02, "type": "quantitative", "axis": null}
}
}
],
"resolve": {"axis": {"x": "independent", "y": "independent"}}
}
],
"resolve": {"legend": {"color": "independent"}},
"config": {
"font": "DejaVu Serif",
"text": {"font": "DejaVu Serif"},
"view": {"stroke": "black", "strokeWidth": 2},
"axis": {"grid": false, "domain": false, "tickColor": "black", "tickWidth": 2, "labelFont": "DejaVu Serif", "labelFontSize": 23, "labelColor": "black", "titleFont": "DejaVu Serif", "titleFontSize": 22, "titleFontWeight": "bold", "titleColor": "black"},
"legend": {"labelFont": "DejaVu Serif", "labelFontSize": 17, "labelFontWeight": "bold", "labelColor": "black", "symbolType": "stroke", "symbolSize": 400, "symbolStrokeWidth": 1.5, "strokeColor": "black", "strokeWidth": 2, "fillColor": "white", "padding": 5, "rowPadding": 3, "labelOffset": 10, "cornerRadius": 0}
}
}
